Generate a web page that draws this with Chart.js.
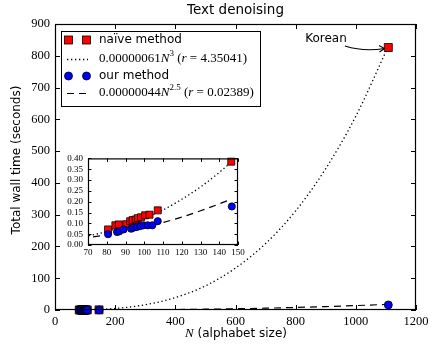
<!DOCTYPE html>
<html>
<head>
<meta charset="utf-8">
<script src="https://cdn.jsdelivr.net/npm/chart.js@4.4.0/dist/chart.umd.min.js"></script>
<style>
body{margin:0;background:#fff}
#wrap{position:relative;width:436px;height:349px}
#main{position:absolute;left:0;top:0}
#inset{position:absolute;left:50px;top:148px}
</style>
</head>
<body>
<div id="wrap">
<canvas id="main" width="436" height="349"></canvas>
<canvas id="inset" width="200" height="115"></canvas>
</div>
<script>
// measured points (N, seconds)
const naiveN    = [80.7, 84.6, 86.4, 90.4, 92.5, 93.8, 95.5, 96.6, 98.3, 100.5, 102.8, 107.2, 146.4, 1108];
const naiveTime = [0.072, 0.091, 0.095, 0.096, 0.110, 0.115, 0.118, 0.124, 0.128, 0.137, 0.140, 0.160, 0.385, 826];
const oursN     = [80.7, 85.5, 86.7, 89.0, 93.0, 94.3, 96.0, 97.8, 99.6, 101.9, 104.3, 107.2, 146.7, 1108];
const oursTime  = [0.050, 0.060, 0.063, 0.072, 0.075, 0.080, 0.083, 0.087, 0.091, 0.091, 0.091, 0.110, 0.178, 16];

// fitted curves
const fitN     = [50, 100, 200, 300, 400, 500, 600, 700, 800, 900, 1000, 1108];
const naiveFit = [0.08, 0.61, 4.9, 16.5, 39, 76, 132, 209, 312, 445, 610, 830];
const oursFit  = [0.01, 0.044, 0.25, 0.69, 1.41, 2.46, 3.88, 5.7, 7.97, 10.7, 13.9, 17.9];

// fitted curves
const insetFitN     = [60, 70, 80, 90, 100, 110, 120, 130, 140, 146.5];
const insetNaiveFit = [0.026, 0.042, 0.062, 0.089, 0.122, 0.162, 0.211, 0.268, 0.335, 0.384];
const insetOursFit  = [0.023, 0.034, 0.047, 0.063, 0.082, 0.104, 0.129, 0.158, 0.190, 0.212];

const titleText = 'Text denoising';
const yTitle = 'Total wall time (seconds)';
const naiveLabel = 'naïve method';
const oursLabel = 'our method';
const naiveFitLabel = ['0.00000061', '3', '4.35041'];
const oursFitLabel = ['0.00000044', '2.5', '0.02389'];
const noteText = 'Korean';

const SERIF = '"Liberation Serif", serif';
const SANS = '"DejaVu Sans", sans-serif';

function pts(xs, ys) {
    return xs.map((x, i) => ({x: x, y: ys[i]}));
}

function makeSets(fx, fa, fb, sq, rad) {
    return [
        {label: oursLabel, data: pts(oursN, oursTime), pointStyle: 'circle', pointRadius: rad,
         backgroundColor: '#0000ff', borderColor: '#000', pointBorderWidth: 0.8, showLine: false, order: 0, clip: 6},
        {label: naiveLabel, data: pts(naiveN, naiveTime), pointStyle: 'rect', pointRadius: sq,
         backgroundColor: '#ff0000', borderColor: '#000', pointBorderWidth: 0.8, showLine: false, order: 1, clip: 6},
        {label: 'naive fit', data: pts(fx, fa), showLine: true, pointRadius: 0, borderColor: '#000',
         borderWidth: 1.3, borderDash: [1.3, 2.7], cubicInterpolationMode: 'monotone', order: 2},
        {label: 'our fit', data: pts(fx, fb), showLine: true, pointRadius: 0, borderColor: '#000',
         borderWidth: 1.2, borderDash: [7, 5], cubicInterpolationMode: 'monotone', order: 3}
    ];
}

// box round the axes, with ticks pointing inward on all four sides
const frame = {
    id: 'frame',
    beforeDatasetsDraw(chart, args, o) {
        if (!o.fill) return;
        const a = chart.chartArea;
        chart.ctx.fillStyle = '#fff';
        chart.ctx.fillRect(a.left, a.top, a.right - a.left, a.bottom - a.top);
    },
    afterDatasetsDraw(chart, args, o) {
        const ctx = chart.ctx, a = chart.chartArea;
        const xs = chart.scales.x, ys = chart.scales.y;
        ctx.save();
        ctx.strokeStyle = '#000';
        ctx.lineWidth = 1;
        ctx.beginPath();
        xs.ticks.forEach(t => {
            const p = Math.round(xs.getPixelForValue(t.value)) + 0.5;
            ctx.moveTo(p, a.bottom); ctx.lineTo(p, a.bottom - o.len);
            ctx.moveTo(p, a.top); ctx.lineTo(p, a.top + o.len);
        });
        ys.ticks.forEach(t => {
            const p = Math.round(ys.getPixelForValue(t.value)) + 0.5;
            ctx.moveTo(a.left, p); ctx.lineTo(a.left + o.len, p);
            ctx.moveTo(a.right, p); ctx.lineTo(a.right - o.len, p);
        });
        ctx.stroke();
        ctx.lineWidth = 1.2;
        ctx.strokeRect(a.left + 0.5, a.top + 0.5, a.right - a.left - 1, a.bottom - a.top - 1);
        ctx.restore();
    }
};

function runs(ctx, parts, x, y) {
    parts.forEach(p => {
        ctx.font = p[1];
        ctx.fillText(p[0], x, y + (p[2] || 0));
        x += ctx.measureText(p[0]).width;
    });
}

function fitText(ctx, lab, x, y) {
    runs(ctx, [
        [lab[0], '13px ' + SERIF],
        ['N', 'italic 13px ' + SERIF],
        [lab[1], '9px ' + SERIF, -5],
        [' (', '13px ' + SERIF],
        ['r', 'italic 13px ' + SERIF],
        [' = ' + lab[2] + ')', '13px ' + SERIF]
    ], x, y);
}

function square(ctx, x, y, s) {
    ctx.fillStyle = '#ff0000';
    ctx.fillRect(x - s / 2, y - s / 2, s, s);
    ctx.strokeRect(x - s / 2, y - s / 2, s, s);
}

function dot(ctx, x, y, r) {
    ctx.beginPath();
    ctx.arc(x, y, r, 0, Math.PI * 2);
    ctx.fillStyle = '#0000ff';
    ctx.fill();
    ctx.stroke();
}

// title, axis titles, legend box and the Korean note
const decor = {
    id: 'decor',
    afterDraw(chart) {
        const ctx = chart.ctx;
        ctx.save();
        ctx.fillStyle = '#000';
        ctx.textBaseline = 'alphabetic';
        ctx.textAlign = 'center';
        ctx.font = '13.5px ' + SANS;
        ctx.fillText(titleText, 235.5, 13.5);

        ctx.save();
        ctx.translate(19.5, 160);
        ctx.rotate(-Math.PI / 2);
        ctx.font = '12px ' + SANS;
        ctx.fillText(yTitle, 0, 0);
        ctx.restore();

        ctx.textAlign = 'left';
        ctx.font = 'italic 13px ' + SERIF;
        const w1 = ctx.measureText('N').width;
        ctx.font = '12px ' + SANS;
        const w2 = ctx.measureText(' (alphabet size)').width;
        runs(ctx, [['N', 'italic 13px ' + SERIF], [' (alphabet size)', '12px ' + SANS]], 236 - (w1 + w2) / 2, 336.5);

        // legend
        ctx.fillStyle = '#fff';
        ctx.fillRect(61, 31, 199, 75);
        ctx.strokeStyle = '#000';
        ctx.lineWidth = 1;
        ctx.strokeRect(61.5, 31.5, 199, 75);
        ctx.lineWidth = 0.8;
        square(ctx, 68.5, 40, 8);
        square(ctx, 86.5, 40, 8);
        dot(ctx, 68.5, 76, 4);
        dot(ctx, 86.5, 76, 4);
        ctx.lineWidth = 1.3;
        ctx.setLineDash([1.3, 2.7]);
        ctx.beginPath(); ctx.moveTo(67, 59.5); ctx.lineTo(88, 59.5); ctx.stroke();
        ctx.lineWidth = 1.2;
        ctx.setLineDash([7, 5]);
        ctx.beginPath(); ctx.moveTo(67, 93.5); ctx.lineTo(88, 93.5); ctx.stroke();
        ctx.setLineDash([]);
        ctx.fillStyle = '#000';
        ctx.textBaseline = 'middle';
        ctx.font = '12px ' + SANS;
        ctx.fillText(naiveLabel, 99, 40);
        ctx.fillText(oursLabel, 99, 76);
        fitText(ctx, naiveFitLabel, 99, 59);
        fitText(ctx, oursFitLabel, 99, 93);

        // annotation
        ctx.textAlign = 'center';
        ctx.font = '12px ' + SANS;
        ctx.fillText(noteText, 326, 38.5);
        ctx.lineWidth = 1.1;
        ctx.beginPath();
        ctx.moveTo(345, 46);
        ctx.quadraticCurveTo(364, 52, 384.5, 48.5);
        ctx.stroke();
        ctx.beginPath();
        ctx.moveTo(379, 45.5); ctx.lineTo(384.5, 48.5); ctx.lineTo(379.5, 52);
        ctx.stroke();
        ctx.restore();
    }
};

function axis(min, max, step, size, pad, fmt, fit) {
    return {
        type: 'linear', min: min, max: max,
        grid: {display: false, drawTicks: false},
        border: {display: false},
        ticks: {stepSize: step, autoSkip: false, maxRotation: 0, padding: pad, color: '#000',
                font: {family: SERIF, size: size}, callback: fmt},
        afterFit: fit
    };
}

const base = {
    responsive: false,
    animation: false,
    events: [],
    plugins: {legend: {display: false}, tooltip: {enabled: false}}
};

new Chart(document.getElementById('main'), {
    type: 'scatter',
    data: {datasets: makeSets(fitN, naiveFit, oursFit, 5.66, 4)},
    options: Object.assign({}, base, {
        layout: {padding: {top: 24, right: 20, left: 0, bottom: 0}},
        plugins: Object.assign({}, base.plugins, {frame: {len: 5, fill: false}}),
        scales: {
            x: axis(0, 1200, 200, 12.5, 4, v => v, s => { s.height = 39; }),
            y: axis(0, 900, 100, 12.5, 5, v => v, s => { s.width = 55; })
        }
    }),
    plugins: [frame, decor]
});

new Chart(document.getElementById('inset'), {
    type: 'scatter',
    data: {datasets: makeSets(insetFitN, insetNaiveFit, insetOursFit, 4.95, 3.6)},
    options: Object.assign({}, base, {
        layout: {padding: {top: 8, right: 12, left: 0, bottom: 0}},
        plugins: Object.assign({}, base.plugins, {frame: {len: 3.5, fill: true}}),
        scales: {
            x: axis(70, 150, 10, 9, 2, v => v, s => { s.height = 18; }),
            y: axis(0, 0.4, 0.05, 9, 5, v => v.toFixed(2), s => { s.width = 38; })
        }
    }),
    plugins: [frame]
});
</script>
</body>
</html>
